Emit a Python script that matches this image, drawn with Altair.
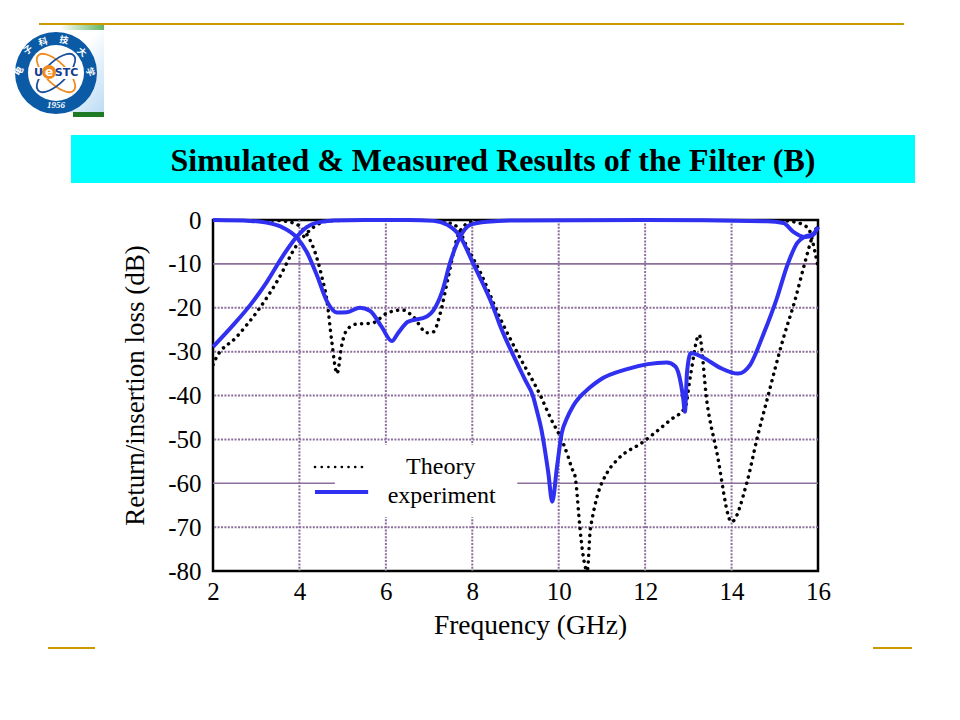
import altair as alt
import pandas as pd

# Curves (frequency GHz, loss dB)
exp_s21_x = [2,2.47,2.86,3.24,3.63,3.94,4.17,4.4,4.8,5.5,6.5,7.1,7.42,7.72,8.02,8.49,8.64,9.03,9.22,9.41,9.49,9.6,9.76,9.85,9.96,10.07,10.19,10.34,10.72,10.96,11.58,12.5,12.7,12.8,12.88,12.92,12.97,13.06,13.35,13.74,14.15,14.43,14.73,15.05,15.29,15.52,15.7,15.89,16]
exp_s21_y = [-28.9,-23.9,-19.4,-14.2,-8,-3.8,-1.6,-0.6,-0.1,0,0,-0.2,-1.1,-3.8,-9.9,-20,-24,-32.5,-36.4,-40.3,-43.3,-47.8,-57.7,-64.2,-56.3,-48.6,-45.2,-42.3,-38.2,-36.4,-34,-32.5,-33.4,-36,-40.6,-43.7,-34.6,-30.3,-31.4,-33.7,-35,-33,-26.2,-17.8,-10.3,-5.2,-3.8,-3.2,-1.6]
exp_s11_x = [2,2.86,3.24,3.63,3.94,4.17,4.4,4.64,4.87,5.1,5.4,5.63,5.9,6.14,6.28,6.51,6.95,7.1,7.3,7.49,7.72,7.95,8.34,9.03,12,14.82,15.2,15.43,15.7,15.89,16]
exp_s11_y = [0,-0.2,-0.6,-1.8,-4.0,-7.3,-12.5,-18.6,-21.1,-21,-20,-20.7,-24.3,-27.6,-25.8,-23.2,-22,-20.6,-16.4,-9.6,-3.8,-1.1,-0.4,-0.1,0,-0.3,-0.7,-2.7,-3.9,-3.4,-1.6]
thy_s21_x = [2,2.05,2.55,3.05,3.5,3.94,4.17,4.36,4.7,5.5,6.5,7.2,7.45,7.65,7.88,8.18,8.64,9.03,9.6,9.8,10.1,10.22,10.3,10.38,10.43,10.46,10.52,10.57,10.66,10.73,10.77,10.89,11.12,11.35,11.95,12.58,12.93,13.04,13.25,13.43,13.66,14.0,14.35,14.6,14.82,15.2,15.47,15.7,15.86,15.97,16]
thy_s21_y = [-33,-31.9,-26.6,-20.5,-13.7,-5.7,-3,-1.4,-0.2,0,0,-0.1,-0.6,-1.6,-6.2,-11.8,-22.3,-30,-40.5,-44.9,-50.8,-54,-56.5,-58.5,-63,-66.7,-72.9,-76.8,-80,-70.6,-68.3,-63,-57.6,-54.7,-50.6,-45.6,-42.6,-36,-26.2,-41.5,-53,-68.8,-60,-49.4,-41,-26.9,-18.2,-9.6,-4.1,-1.6,-0.8]
thy_s11_x = [2,3.24,3.6,3.94,4.15,4.33,4.52,4.64,4.75,4.87,4.98,5.1,5.33,5.68,6.03,6.38,6.63,6.95,7.1,7.25,7.44,7.65,7.85,8.1,9,12,15.1,15.43,15.77,15.93,16]
thy_s11_y = [0,0,-0.2,-1,-3,-6.5,-13,-18.6,-27.8,-35,-28.5,-25,-23.7,-23.5,-21.2,-20.5,-22,-25.7,-25.5,-21.6,-13.2,-4.1,-1,-0.1,0,0,-0.1,-0.4,-1.8,-7.3,-10.7]

x_ticks = [2,4,6,8,10,12,14,16]
y_ticks = [0,-10,-20,-30,-40,-50,-60,-70,-80]
grid_v = [4,6,8,10,12,14]
grid_dotted = [-20,-30,-40,-50,-70]
grid_solid = [-10,-60]

legend_x = [4.36,5.59]
legend_theory_y = -56.3
legend_exp_y = -62.0
slide_title = "Simulated & Measured Results of the Filter (B)"
serif = "Liberation Serif"
PURPLE = "#8d6f9b"
BLUE = "#3030f0"
GOLD = "#cc9900"
OX, OY = 213, 220   # page position of the plot origin


def curve(xs, ys):
    return pd.DataFrame({"x": xs, "y": ys})

X = alt.X("x:Q", scale=alt.Scale(domain=[2,16], nice=False),
          axis=alt.Axis(values=x_ticks, grid=False, ticks=False, domain=False,
                        labelFont=serif, labelFontSize=25, labelColor="black",
                        labelPadding=8, title="Frequency (GHz)", titleFont=serif,
                        titleFontSize=27.5, titleFontWeight="normal", titleColor="black",
                        titlePadding=7, titleX=317, labelFlush=False, format="d"))
Y = alt.Y("y:Q", scale=alt.Scale(domain=[-80,0], nice=False),
          axis=alt.Axis(values=y_ticks, grid=False, ticks=False, domain=False,
                        labelFont=serif, labelFontSize=25, labelColor="black",
                        labelPadding=12, title="Return/insertion loss (dB)", titleFont=serif,
                        titleFontSize=27, titleFontWeight="normal", titleColor="black",
                        titlePadding=18, titleY=165, labelExpr="toString(datum.value)"))

def thy(xs, ys):
    return alt.Chart(curve(xs, ys)).mark_line(
        color="black", strokeWidth=3.5, strokeDash=[0.1, 6.5], strokeCap="round",
        interpolate="monotone", clip=True).encode(x=X, y=Y)

def exp(xs, ys):
    return alt.Chart(curve(xs, ys)).mark_line(
        color=BLUE, strokeWidth=4, interpolate="monotone", clip=False).encode(x=X, y=Y)

def px_rect(x0, y0, x1, y1, color, **kw):
    return alt.Chart(pd.DataFrame({"a": [0]})).mark_rect(color=color, **kw).encode(
        x=alt.value(x0-OX), x2=alt.value(x1-OX), y=alt.value(y0-OY), y2=alt.value(y1-OY))

def px_text(x, y, s, **kw):
    return alt.Chart(pd.DataFrame({"t": [s]})).mark_text(**kw).encode(
        x=alt.value(x-OX), y=alt.value(y-OY), text="t:N")

def px_sym(x, y, d, **kw):
    return alt.Chart(pd.DataFrame({"a": [0]})).mark_point(size=d*d, **kw).encode(
        x=alt.value(x-OX), y=alt.value(y-OY))

def grad(c0, off0, c1, x2, y2):
    return alt.LinearGradient(gradient="linear", x1=0, y1=0, x2=x2, y2=y2,
                              stops=[alt.GradientStop(color=c0, offset=off0),
                                     alt.GradientStop(color=c1, offset=1)])

ELLIPSE = "M-1,0A1,0.42 0 1,1 1,0A1,0.42 0 1,1 -1,0Z"

# slide furniture
deco = [
    px_rect(39, 23, 904, 25, GOLD),
    px_rect(48, 647, 95, 649, GOLD),
    px_rect(873, 647, 912, 649, GOLD),
    px_rect(71, 135, 915, 183, "#00ffff"),
    px_text(493, 161, slide_title, font=serif, fontSize=32, fontWeight="bold", color="black",
            align="center", baseline="middle"),
    # logo
    px_rect(39, 30, 104, 112, grad("#ffffff", 0.45, "#bcdcf4", 1, 1)),
    px_rect(60, 25, 104, 30, grad("#ffffff", 0, "#62b562", 1, 0)),
    px_rect(73, 112, 104, 117, "#1f7a26"),
    px_sym(56, 73, 82, shape="circle", filled=True, color="#0b5aa6", opacity=1),
    px_sym(56, 73, 56, shape="circle", filled=True, color="white", opacity=1),
    px_sym(56, 73, 50, shape=ELLIPSE, filled=False, color="#f08a1d", strokeWidth=1.8, opacity=1, angle=45),
    px_sym(56, 73, 50, shape=ELLIPSE, filled=False, color="#1c4f9c", strokeWidth=1.8, opacity=1, angle=135),
    px_rect(34, 67, 78, 79, "white"),
    px_sym(49, 72, 14, shape="circle", filled=True, color="#f08a1d", opacity=1),
    px_text(49, 72, "e", font="DejaVu Sans", fontSize=12, fontWeight="bold", color="white",
            align="center", baseline="middle"),
    px_text(38.5, 72.5, "U", font="DejaVu Sans", fontSize=11, fontWeight="bold", color="#143c8c",
            align="center", baseline="middle"),
    px_text(66.5, 72.5, "STC", font="DejaVu Sans", fontSize=11, fontWeight="bold", color="#143c8c",
            align="center", baseline="middle"),
    px_text(56, 105, "1956", font=serif, fontSize=9, fontStyle="italic", fontWeight="bold", color="white",
            align="center", baseline="middle"),
]
for cx, cy, ch, ang in [(19,71,"电",300),(28,50,"子",325),(43,42,"科",345),(64,40,"技",10),(82,52,"大",40),(90,72,"学",70)]:
    deco.append(px_text(cx, cy, ch, font="Noto Sans CJK SC", fontSize=9, fontWeight="bold",
                        color="white", align="center", baseline="middle", angle=ang))

grid = [
    alt.Chart(pd.DataFrame({"y": grid_dotted})).mark_rule(color=PURPLE, strokeWidth=2, strokeDash=[2,1.4]).encode(y=Y),
    alt.Chart(pd.DataFrame({"y": grid_solid})).mark_rule(color=PURPLE, strokeWidth=1.6).encode(y=Y),
    alt.Chart(pd.DataFrame({"x": grid_v})).mark_rule(color=PURPLE, strokeWidth=2, strokeDash=[2,1.4]).encode(x=X),
    alt.Chart(pd.DataFrame({"x":[4.82],"x2":[9.04],"y":[-51.3],"y2":[-67.7]})).mark_rect(color="white", opacity=1).encode(
        x=X, x2="x2:Q", y=Y, y2="y2:Q"),
]

legend = [
    alt.Chart(curve(legend_x, [legend_theory_y]*2)).mark_line(color="black", strokeWidth=2.6, strokeDash=[0.1,6.6], strokeCap="round").encode(x=X, y=Y),
    alt.Chart(curve(legend_x, [legend_exp_y]*2)).mark_line(color=BLUE, strokeWidth=4).encode(x=X, y=Y),
    alt.Chart(pd.DataFrame({"x":[7.27],"y":[-56.4],"t":["Theory"]})).mark_text(font=serif, fontSize=24, color="black", align="center", baseline="middle").encode(x=X, y=Y, text="t:N"),
    alt.Chart(pd.DataFrame({"x":[7.29],"y":[-62.9],"t":["experiment"]})).mark_text(font=serif, fontSize=24, color="black", align="center", baseline="middle").encode(x=X, y=Y, text="t:N"),
]

curves = [thy(thy_s11_x, thy_s11_y), thy(thy_s21_x, thy_s21_y), exp(exp_s11_x, exp_s11_y), exp(exp_s21_x, exp_s21_y)]

chart = alt.layer(*grid, *curves, *legend, *deco).properties(
    width=605, height=351,
    background="white",
    padding={"left": OX-8, "top": OY-8, "right": 960-16-(OX-8)-605, "bottom": 720-16-(OY-8)-351},
    autosize=alt.AutoSizeParams(type="none"),
).configure_view(stroke="black", strokeWidth=2.5)

chart.save("out.html", embed_options={"renderer": "svg", "actions": False})
